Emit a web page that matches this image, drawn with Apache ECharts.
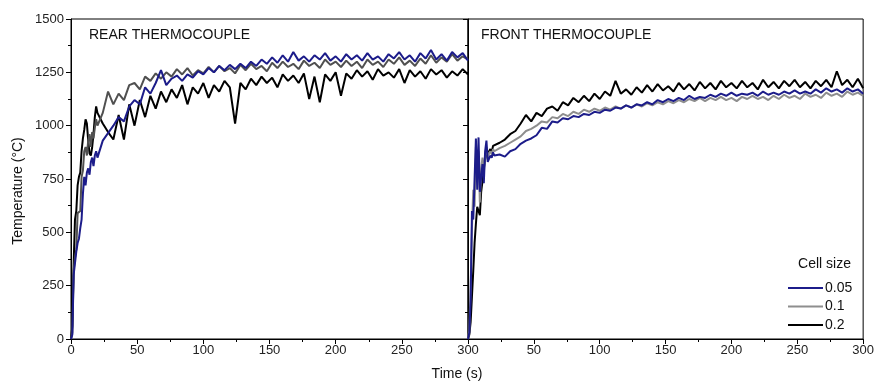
<!DOCTYPE html>
<html>
<head>
<meta charset="utf-8">
<script src="https://cdn.jsdelivr.net/npm/echarts@6/dist/echarts.min.js"></script>
<style>
  html, body { margin: 0; padding: 0; background: #fff; }
  #main { width: 877px; height: 383px; }
</style>
</head>
<body>
<div id="main"></div>
<script>
// time samples (s), shared by both panels
const times = [0, 1, 2, 3, 4, 5, 6, 7, 8, 9, 10, 11, 12, 13, 14, 15, 16, 17, 18, 19, 20,
  24, 28, 32, 36, 40, 44, 48, 52, 56, 60, 64, 68, 72, 76, 80, 84, 88, 92, 96, 100,
  104, 108, 112, 116, 120, 124, 128, 132, 136, 140, 144, 148, 152, 156, 160, 164, 168, 172, 176, 180,
  184, 188, 192, 196, 200, 204, 208, 212, 216, 220, 224, 228, 232, 236, 240, 244, 248, 252, 256, 260,
  264, 268, 272, 276, 280, 284, 288, 292, 296, 300];

const cellSizes = ["0.05", "0.1", "0.2"];

// REAR thermocouple (left panel)
const rear005 = [0, 20, 300, 300, 410, 450, 470, 520, 560, 680, 760, 720, 780, 800, 770, 830, 850, 810, 860, 880, 850,
  930, 965, 1000, 1040, 1020, 1090, 1120, 1100, 1180, 1150, 1200, 1260, 1190, 1220, 1235, 1210, 1240, 1225, 1255, 1240,
  1270, 1250, 1280, 1260, 1285, 1265, 1290, 1270, 1300, 1280, 1310, 1290, 1320, 1295, 1330, 1300, 1345, 1305, 1325, 1300,
  1330, 1310, 1340, 1305, 1325, 1300, 1335, 1310, 1330, 1305, 1340, 1310, 1325, 1300, 1335, 1315, 1345, 1310, 1330, 1300,
  1340, 1315, 1355, 1310, 1335, 1305, 1345, 1320, 1340, 1305];
const rear01 = [0, 30, 320, 380, 420, 590, 590, 600, 760, 790, 880, 900, 860, 930, 960, 900, 970, 940, 990, 1030, 1000,
  1060, 1160, 1100, 1150, 1120, 1190, 1200, 1170, 1230, 1210, 1245, 1220, 1250, 1230, 1265, 1240, 1270, 1235, 1260, 1245,
  1275, 1250, 1280, 1255, 1270, 1245, 1285, 1260, 1290, 1265, 1280, 1255, 1295, 1270, 1300, 1275, 1290, 1265, 1305, 1280,
  1295, 1270, 1310, 1285, 1300, 1275, 1305, 1280, 1300, 1270, 1310, 1285, 1300, 1275, 1310, 1290, 1320, 1285, 1305, 1280,
  1315, 1290, 1330, 1295, 1320, 1300, 1335, 1305, 1325, 1310];
const rear02 = [0, 60, 350, 560, 600, 720, 760, 780, 880, 940, 980, 1030, 1010, 930, 870, 860, 900, 960, 1040, 1090, 1060,
  1010, 970, 935, 1050, 935, 1100, 1000, 1120, 1040, 1140, 1080, 1160, 1110, 1170, 1130, 1190, 1100, 1180, 1150, 1200,
  1130, 1190, 1160, 1210, 1180, 1010, 1200, 1170, 1220, 1190, 1230, 1200, 1225, 1180, 1240, 1210, 1235, 1200, 1245, 1125,
  1230, 1110, 1240, 1210, 1250, 1140, 1245, 1220, 1260, 1230, 1255, 1215, 1265, 1235, 1250, 1225, 1265, 1200, 1260, 1230,
  1255, 1220, 1265, 1240, 1260, 1225, 1255, 1235, 1265, 1240];

// FRONT thermocouple (right panel)
const front005 = [0, 30, 180, 600, 560, 750, 940, 700, 945, 690, 760, 820, 730, 880, 930, 830, 845, 860, 850, 875, 860,
  865, 855, 880, 890, 915, 930, 940, 955, 990, 985, 1020, 1015, 1035, 1030, 1045, 1040, 1055, 1050, 1065, 1060,
  1075, 1070, 1085, 1080, 1095, 1085, 1100, 1095, 1110, 1100, 1120, 1110, 1125, 1115, 1130, 1120, 1140, 1125, 1135, 1130,
  1145, 1135, 1150, 1140, 1155, 1140, 1150, 1145, 1155, 1140, 1160, 1145, 1155, 1145, 1160, 1150, 1165, 1150, 1160, 1150,
  1170, 1155, 1175, 1160, 1170, 1155, 1175, 1160, 1170, 1150];
const front01 = [0, 40, 250, 520, 700, 620, 900, 760, 880, 640, 800, 850, 780, 860, 900, 850, 870, 880, 865, 890, 880,
  895, 905, 920, 935, 950, 975, 985, 1000, 1020, 1015, 1040, 1035, 1055, 1045, 1065, 1055, 1075, 1065, 1080, 1070,
  1085, 1075, 1090, 1080, 1095, 1085, 1100, 1090, 1105, 1095, 1110, 1100, 1115, 1105, 1120, 1110, 1125, 1115, 1130, 1115,
  1130, 1120, 1135, 1120, 1130, 1115, 1135, 1125, 1140, 1125, 1135, 1120, 1140, 1125, 1145, 1130, 1140, 1125, 1150, 1135,
  1145, 1130, 1155, 1140, 1150, 1135, 1160, 1145, 1155, 1140];
const front02 = [0, 20, 80, 200, 320, 450, 540, 620, 600, 580, 690, 740, 800, 840, 870, 860, 880, 890, 875, 905, 900,
  920, 935, 960, 975, 1010, 1050, 1020, 1060, 1045, 1080, 1090, 1070, 1110, 1095, 1130, 1110, 1140, 1115, 1150, 1125,
  1160, 1140, 1210, 1150, 1170, 1145, 1180, 1155, 1190, 1160, 1195, 1165, 1185, 1160, 1200, 1170, 1195, 1165, 1205, 1175,
  1200, 1170, 1210, 1180, 1200, 1175, 1210, 1180, 1200, 1170, 1215, 1180, 1205, 1175, 1210, 1185, 1215, 1180, 1205, 1175,
  1210, 1185, 1215, 1180, 1255, 1190, 1215, 1180, 1220, 1175];

const pairs = (vals) => times.map((t, i) => [t, vals[i]]);

const FONT = "Liberation Sans, Arial, sans-serif";
const BLUE = "#1c1c8a";

const chart = echarts.init(document.getElementById("main"));

function xAxis(gridIndex, showMin) {
  return {
    type: "value", gridIndex, min: 0, max: 300, interval: 50,
    axisLine: { show: true, lineStyle: { color: "#000", width: 1 } },
    axisTick: { show: true, length: 5, lineStyle: { color: "#000" } },
    minorTick: { show: true, splitNumber: 2, length: 3, lineStyle: { color: "#000" } },
    splitLine: { show: false },
    axisLabel: {
      showMinLabel: showMin, margin: 5, color: "#222", fontSize: 13, fontFamily: FONT,
      formatter: (v) => String(v),
    },
  };
}

function yAxis(gridIndex, showLabel) {
  return {
    type: "value", gridIndex, min: 0, max: 1500, interval: 250,
    axisLine: { show: true, lineStyle: { color: "#000", width: 1 } },
    axisTick: { show: true, length: 5, lineStyle: { color: "#000" } },
    minorTick: { show: true, splitNumber: 2, length: 3, lineStyle: { color: "#000" } },
    splitLine: { show: false },
    axisLabel: {
      show: showLabel, margin: 7, color: "#222", fontSize: 13, fontFamily: FONT,
      formatter: (v) => String(v),
    },
  };
}

function line(name, xi, data, color) {
  return {
    name, type: "line", xAxisIndex: xi, yAxisIndex: xi, data: pairs(data),
    symbol: "none", animation: false,
    lineStyle: { color, width: 2 }, itemStyle: { color },
  };
}

chart.setOption({
  backgroundColor: "#fff",
  animation: false,
  grid: [
    { left: 71, right: 409, top: 19, bottom: 44, show: true, borderColor: "#000", borderWidth: 1 },
    { left: 468, right: 12, top: 19, bottom: 44, show: true, borderColor: "#000", borderWidth: 1 },
  ],
  xAxis: [xAxis(0, true), xAxis(1, false)],
  yAxis: [yAxis(0, true), yAxis(1, false)],
  legend: {
    data: cellSizes,
    orient: "vertical",
    left: 783, top: 275,
    icon: "rect",
    itemWidth: 35, itemHeight: 2, itemGap: 2.5,
    textStyle: { color: "#111", fontSize: 14, lineHeight: 16, fontFamily: FONT, padding: [0, 0, 0, -3] },
  },
  graphic: [
    { type: "text", x: 89, y: 35, style: { text: "REAR THERMOCOUPLE", fontSize: 14, fontFamily: FONT, fill: "#111", verticalAlign: "middle" } },
    { type: "text", x: 481, y: 35, style: { text: "FRONT THERMOCOUPLE", fontSize: 14, fontFamily: FONT, fill: "#111", verticalAlign: "middle" } },
    { type: "text", x: 457, y: 374, style: { text: "Time (s)", fontSize: 14, fontFamily: FONT, fill: "#111", align: "center", verticalAlign: "middle" } },
    { type: "text", x: 18, y: 191, rotation: Math.PI / 2, style: { text: "Temperature (°C)", fontSize: 14, fontFamily: FONT, fill: "#111", align: "center", verticalAlign: "middle" } },
    { type: "text", x: 851, y: 264, style: { text: "Cell size", fontSize: 14, fontFamily: FONT, fill: "#111", align: "right", verticalAlign: "middle" } },
  ],
  series: [
    line("0.2", 1, front02, "#000"),
    line("0.1", 1, front01, "#8e8e8e"),
    line("0.05", 1, front005, BLUE),
    line("0.2", 0, rear02, "#000"),
    line("0.1", 0, rear01, "#505050"),
    line("0.05", 0, rear005, BLUE),
  ],
});
</script>
</body>
</html>
